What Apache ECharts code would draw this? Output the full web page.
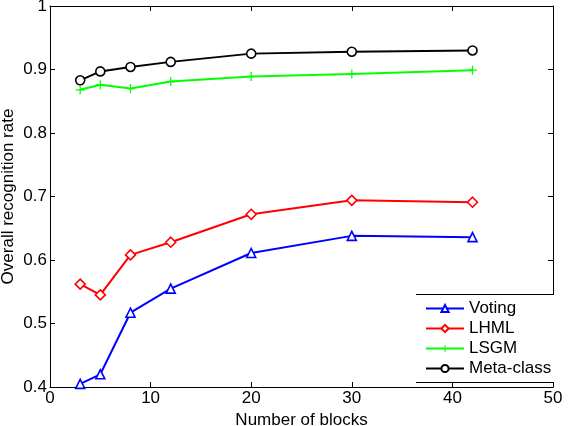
<!DOCTYPE html>
<html><head><meta charset="utf-8">
<script src="https://cdn.jsdelivr.net/npm/echarts@6/dist/echarts.min.js"></script>
<style>html,body{margin:0;padding:0;background:#fff}#c{width:570px;height:426px}</style>
</head><body><div id="c"></div>
<script>
const blocks = [3, 5, 8, 12, 20, 30, 42];
const voting = [0.405, 0.420, 0.517, 0.555, 0.611, 0.638, 0.636];
const lhml = [0.562, 0.545, 0.608, 0.628, 0.672, 0.694, 0.691];
const lsgm = [0.868, 0.876, 0.870, 0.881, 0.889, 0.893, 0.899];
const meta = [0.883, 0.897, 0.904, 0.912, 0.925, 0.928, 0.930];
const seriesNames = ['Voting', 'LHML', 'LSGM', 'Meta-class'];

const font = 'Liberation Sans, Arial, sans-serif';
const pair = (ys) => blocks.map((x, i) => [x, ys[i]]);
const plus = 'path://M4.3,0h1.4v4.3h4.3v1.4h-4.3v4.3h-1.4v-4.3h-4.3v-1.4h4.3z';

function mk(name, ys, color, symbol, size, hollow) {
  return {
    name, type: 'line', data: pair(ys), symbol, symbolSize: size,
    showSymbol: true,
    lineStyle: { color, width: 2 },
    itemStyle: hollow ? { color: '#fff', borderColor: color, borderWidth: 1.6 } : { color, borderWidth: 0 },
    emphasis: { disabled: true }, animation: false, z: 3
  };
}

const chart = echarts.init(document.getElementById('c'));
const axCommon = {
  axisLine: { show: true, onZero: false, lineStyle: { color: '#000', width: 1 } },
  axisTick: { show: true, inside: true, length: 5, lineStyle: { color: '#000' } },
  splitLine: { show: false }
};
chart.setOption({
  backgroundColor: '#fff',
  animation: false,
  grid: { left: 50, right: 17, top: 6, bottom: 39, containLabel: false, outerBoundsMode: 'none' },
  xAxis: [
    Object.assign({ type: 'value', min: 0, max: 50, interval: 10, position: 'bottom',
      axisLabel: { color: '#000', fontSize: 17, fontFamily: font, margin: 3 },
      name: 'Number of blocks', nameLocation: 'middle', nameGap: 25, nameMoveOverlap: false,
      nameTextStyle: { color: '#000', fontSize: 17, fontFamily: font, verticalAlign: 'top' } }, axCommon),
    Object.assign({ type: 'value', min: 0, max: 50, interval: 10, position: 'top',
      axisLabel: { show: false } }, axCommon)
  ],
  yAxis: [
    Object.assign({ type: 'value', min: 0.4, max: 1, interval: 0.1, position: 'left',
      axisLabel: { color: '#000', fontSize: 17, fontFamily: font, margin: 3,
        formatter: v => (Math.round(v * 10) / 10).toString() },
      name: 'Overall recognition rate', nameLocation: 'middle', nameGap: 33, nameMoveOverlap: false,
      nameTextStyle: { color: '#000', fontSize: 17, fontFamily: font } }, axCommon),
    Object.assign({ type: 'value', min: 0.4, max: 1, interval: 0.1, position: 'right',
      axisLabel: { show: false } }, axCommon)
  ],
  legend: {
    data: seriesNames, orient: 'vertical', left: 425, top: 300,
    itemWidth: 38, itemHeight: 9, itemGap: 3, padding: 0, z: 10,
    textStyle: { color: '#000', fontSize: 17, fontFamily: font },
    backgroundColor: 'transparent'
  },
  graphic: [
    { type: 'rect', shape: { x: 416, y: 294, width: 138, height: 88 }, style: { fill: '#fff' }, z: 5, silent: true },
    { type: 'line', shape: { x1: 416, y1: 294.5, x2: 554, y2: 294.5 }, style: { stroke: '#000', lineWidth: 1 }, z: 6 },
    { type: 'line', shape: { x1: 416, y1: 382.5, x2: 554, y2: 382.5 }, style: { stroke: '#000', lineWidth: 1 }, z: 6 }
  ],
  series: [
    mk('Voting', voting, '#0000ff', 'triangle', 9, true),
    mk('LHML', lhml, '#ff0000', 'diamond', 10, true),
    mk('LSGM', lsgm, '#00ff00', plus, 9, false),
    mk('Meta-class', meta, '#000000', 'circle', 9, true)
  ]
});
</script></body></html>
